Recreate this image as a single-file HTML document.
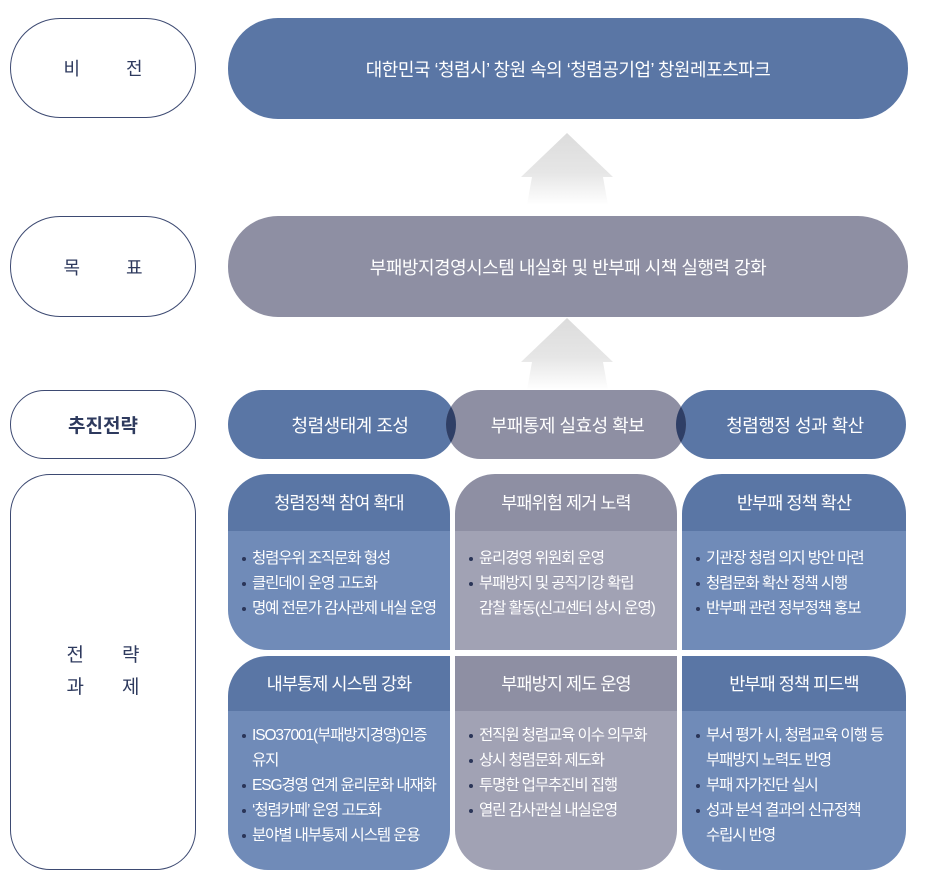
<!DOCTYPE html>
<html><head><meta charset="utf-8"><style>
html,body{margin:0;padding:0;background:#fff;}
body{width:929px;height:883px;position:relative;overflow:hidden;font-family:"Liberation Sans","Noto Sans CJK KR",sans-serif;}
.lab{position:absolute;left:10px;width:186px;border:1.3px solid #3d4a72;background:#fff;color:#2e3a5e;display:flex;align-items:center;justify-content:center;font-size:18px;box-sizing:border-box;}
.pill{position:absolute;color:#fff;display:flex;align-items:center;justify-content:center;font-size:16px;letter-spacing:-0.5px;}
.card{position:absolute;overflow:hidden;color:#fff;}
.card .h{height:57px;display:flex;align-items:center;justify-content:center;font-size:17.5px;letter-spacing:-0.9px;}
.card .b{position:absolute;top:57px;left:0;right:0;bottom:0;padding:15px 0 0 13px;font-size:15.5px;letter-spacing:-1.1px;line-height:25px;}
.card ul{margin:0;padding:0;list-style:none;}
.card li{position:relative;padding-left:11px;}
.card li:before{content:"";position:absolute;left:1px;top:11px;width:4px;height:4px;border-radius:50%;background:#2a3558;}
.bl .h{background:#5a76a5}.bl .b{background:#708bb8}
.gr .h{background:#8e8fa3}.gr .b{background:#a1a2b4}
</style></head><body>
<div class="lab" style="top:18px;height:100px;border-radius:50px;letter-spacing:46px;padding-left:46px">비전</div>
<div class="lab" style="top:216px;height:101px;border-radius:50px;letter-spacing:46px;padding-left:46px">목표</div>
<div class="lab" style="top:390px;height:69px;border-radius:35px;font-weight:bold;font-size:19px">추진전략</div>
<div class="lab" style="top:474px;height:396px;border-radius:40px;letter-spacing:38px;padding-left:38px;line-height:32px;text-align:center;font-size:19px">전략<br>과제</div>

<div class="pill" style="left:228px;top:18px;width:680px;height:101px;border-radius:50px;background:#5a76a5;font-size:18px">대한민국 ‘청렴시’ 창원 속의 ‘청렴공기업’ 창원레포츠파크</div>
<div class="pill" style="left:228px;top:216px;width:680px;height:101px;border-radius:50px;background:#8e8fa3;font-size:18px">부패방지경영시스템 내실화 및 반부패 시책 실행력 강화</div>

<svg style="position:absolute;left:0;top:0" width="929" height="883">
<defs>
<linearGradient id="ag" x1="0" y1="0" x2="0" y2="1"><stop offset="0" stop-color="#dcdcdc"/><stop offset="0.55" stop-color="#e6e6e6"/><stop offset="1" stop-color="#ffffff"/></linearGradient>
<clipPath id="c1"><rect x="228" y="390" width="228" height="69" rx="34.5"/></clipPath>
<clipPath id="c3"><rect x="676" y="390" width="230" height="69" rx="34.5"/></clipPath>
</defs>
<polygon points="567,133 613,177 603,177 608,205 527,205 532,177 521,177" fill="url(#ag)"/>
<polygon points="567,318 613,362 603,362 608,390 527,390 532,362 521,362" fill="url(#ag)"/>
<rect x="228" y="390" width="228" height="69" rx="34.5" fill="#5a76a5"/>
<rect x="676" y="390" width="230" height="69" rx="34.5" fill="#5a76a5"/>
<rect x="446" y="390" width="240" height="69" rx="34.5" fill="#8e8fa3"/>
<rect x="446" y="390" width="240" height="69" rx="34.5" fill="#2f3f66" clip-path="url(#c1)"/>
<rect x="446" y="390" width="240" height="69" rx="34.5" fill="#2f3f66" clip-path="url(#c3)"/>
</svg>
<div class="pill" style="left:260px;top:390px;width:180px;height:69px;font-size:18px">청렴생태계 조성</div>
<div class="pill" style="left:465px;top:390px;width:205px;height:69px;font-size:18px">부패통제 실효성 확보</div>
<div class="pill" style="left:695px;top:390px;width:200px;height:69px;font-size:18px">청렴행정 성과 확산</div>

<div class="card bl" style="left:228px;top:474px;width:222px;height:176px;border-radius:40px 40px 0 40px"><div class="h">청렴정책 참여 확대</div><div class="b"><ul><li>청렴우위 조직문화 형성</li><li>클린데이 운영 고도화</li><li>명예 전문가 감사관제 내실 운영</li></ul></div></div>
<div class="card gr" style="left:455px;top:474px;width:222px;height:176px;border-radius:40px 40px 0 0"><div class="h">부패위험 제거 노력</div><div class="b"><ul><li>윤리경영 위원회 운영</li><li>부패방지 및 공직기강 확립<br>감찰 활동(신고센터 상시 운영)</li></ul></div></div>
<div class="card bl" style="left:682px;top:474px;width:224px;height:176px;border-radius:40px 40px 40px 0"><div class="h">반부패 정책 확산</div><div class="b"><ul><li>기관장 청렴 의지 방안 마련</li><li>청렴문화 확산 정책 시행</li><li>반부패 관련 정부정책 홍보</li></ul></div></div>

<div class="card bl" style="left:228px;top:656px;width:222px;height:214px;border-radius:40px 0 40px 40px"><div class="h" style="height:55px">내부통제 시스템 강화</div><div class="b" style="top:55px;padding-top:12px"><ul><li>ISO37001(부패방지경영)인증<br>유지</li><li>ESG경영 연계 윤리문화 내재화</li><li>‘청렴카페’ 운영 고도화</li><li>분야별 내부통제 시스템 운용</li></ul></div></div>
<div class="card gr" style="left:455px;top:656px;width:222px;height:214px;border-radius:0 0 40px 40px"><div class="h" style="height:55px">부패방지 제도 운영</div><div class="b" style="top:55px;padding-top:12px"><ul><li>전직원 청렴교육 이수 의무화</li><li>상시 청렴문화 제도화</li><li>투명한 업무추진비 집행</li><li>열린 감사관실 내실운영</li></ul></div></div>
<div class="card bl" style="left:682px;top:656px;width:224px;height:214px;border-radius:0 40px 40px 40px"><div class="h" style="height:55px">반부패 정책 피드백</div><div class="b" style="top:55px;padding-top:12px"><ul><li>부서 평가 시, 청렴교육 이행 등<br>부패방지 노력도 반영</li><li>부패 자가진단 실시</li><li>성과 분석 결과의 신규정책<br>수립시 반영</li></ul></div></div>
</body></html>
